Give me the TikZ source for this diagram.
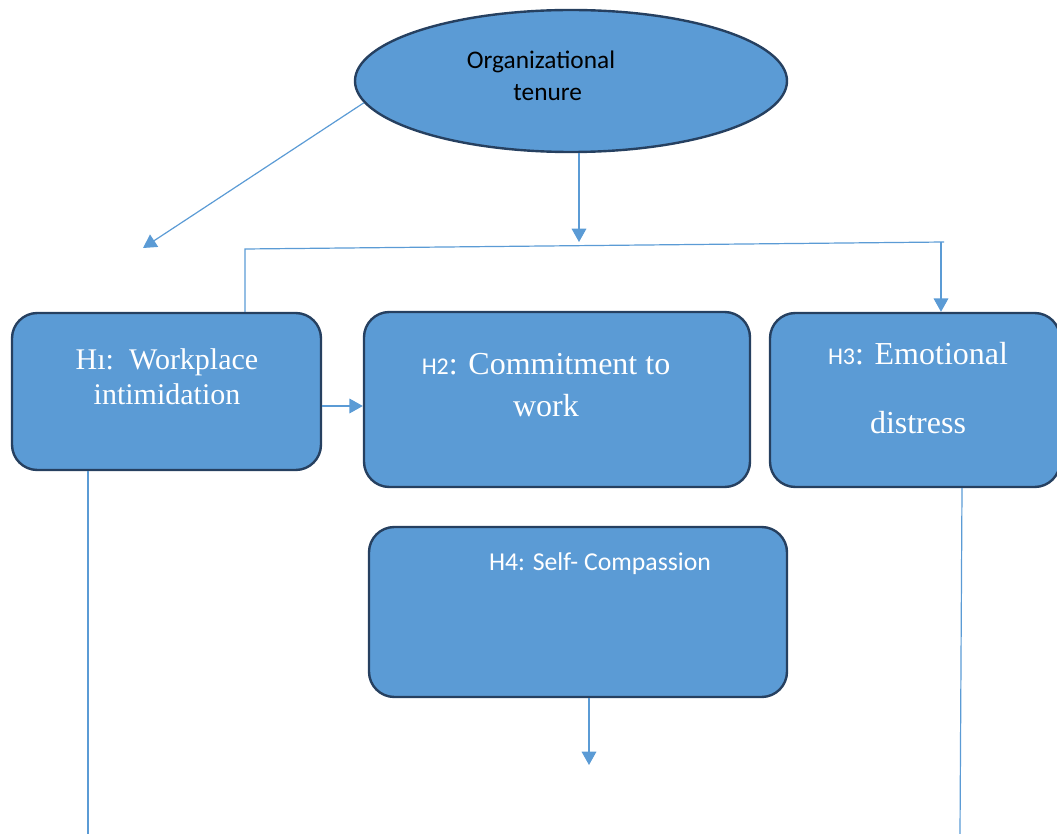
\documentclass[tikz,border=0pt]{standalone}
\usepackage{fontspec}
\setmainfont{Liberation Serif}
\newfontfamily\calfont{Carlito}
\usetikzlibrary{shapes.geometric,arrows.meta}
\definecolor{boxfill}{HTML}{5B9BD5}
\definecolor{boxline}{RGB}{38,64,96}
\definecolor{conncol}{HTML}{5B9BD5}
\tikzset{
  x=0.75pt, y=-0.75pt,
  hbox/.style={draw=boxline, fill=boxfill, line width=1.8pt, rounded corners=19pt, inner sep=0pt},
  conn/.style={draw=conncol, line width=0.9pt},
  arr/.style={conn, -{Triangle[length=10pt,width=11pt]}},
  txt/.style={inner sep=0pt, align=center, text=white}
}
\begin{document}
\begin{tikzpicture}
\useasboundingbox (0,0) rectangle (1057,834);
% shapes
\node[ellipse, draw=boxline, fill=boxfill, line width=1.8pt, minimum width=324pt, minimum height=106.5pt, inner sep=0pt] (ell) at (571,81) {};
\node[hbox, minimum width=231.75pt, minimum height=117.75pt] (h1) at (166.5,391.5) {};
\node[hbox, minimum width=289.5pt, minimum height=131.25pt] (h2) at (557,399.5) {};
\node[hbox, minimum width=217.5pt, minimum height=130.5pt] (h3) at (915,400) {};
\node[hbox, minimum width=313.5pt, minimum height=127.5pt] (h4) at (578,612) {};
% texts
\node[inner sep=0pt, align=center, font=\calfont\fontsize{19}{24}\selectfont] (tell) at (541,76) {Organizational\\\hspace*{10pt}tenure};
\node[txt, font=\fontsize{22.5}{26.5}\selectfont] (t1) at (167,377) {Hı:\ \ Workplace\\intimidation};
\node[txt, font=\fontsize{24}{31.5}\selectfont] (t2) at (546,385) {{\calfont\fontsize{18}{31.5}\selectfont H2}: Commitment to\\work};
\node[txt, font=\fontsize{24}{52}\selectfont] (t3) at (918,388) {{\calfont\fontsize{18}{52}\selectfont H3}: Emotional\\distress};
\node[txt, font=\calfont\fontsize{19.3}{24}\selectfont] (t4) at (600,564) {H4: Self- Compassion};
% coordinates
\coordinate (d1) at (143,248);
\coordinate (v1) at (579,242);
\coordinate (busL) at (245,249);
\coordinate (busR) at (944,242);
\coordinate (busA) at (941,242.2);
\coordinate (a12) at (0,406);
\coordinate (t4end) at (589,765);
\coordinate (b1) at (88,834);
\coordinate (b3top) at (962,0);
\coordinate (b3) at (960,834);
% connectors
\draw[arr] (ell.186) -- (d1);
\draw[arr] (ell.south -| v1) -- (v1);
\draw[conn] (h1.north -| busL) -- (busL) -- (busR);
\draw[arr] (busA) -- (busA |- h3.north);
\draw[arr] (h1.east |- a12) -- (h2.west |- a12);
\draw[arr] (h4.south -| t4end) -- (t4end);
\draw[conn] (h1.south -| b1) -- (b1);
\draw[conn] (h3.south -| b3top) -- (b3);
\end{tikzpicture}
\end{document}
